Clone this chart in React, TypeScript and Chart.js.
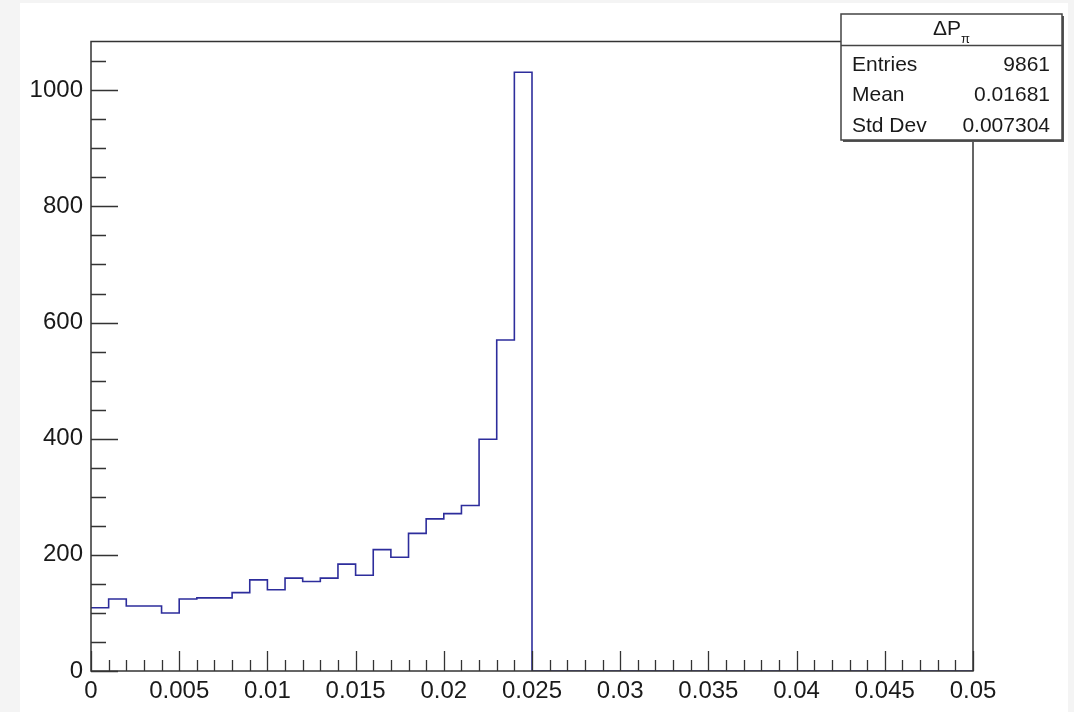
import React, { useEffect, useRef } from "react";
import { Chart, registerables } from "chart.js";

Chart.register(...registerables);

// ΔP_π histogram: 50 bins of width 0.001 covering [0, 0.05]
const binWidth = 0.001;
const binCounts = [
  109, 124, 112, 112, 100, 124, 126, 126, 135, 157,
  140, 160, 154, 160, 184, 165, 209, 196, 237, 262,
  271, 285, 399, 570, 1031, 0, 0, 0, 0, 0,
  0, 0, 0, 0, 0, 0, 0, 0, 0, 0,
  0, 0, 0, 0, 0, 0, 0, 0, 0, 0,
];

// axis ranges and tick spacing
const xRange = [0, 0.05];
const xMinorStep = 0.001;
const xMajorEvery = 5; // a labelled tick every 5 minor steps
const yRange = [0, 1084];
const yMinorStep = 50;
const yMajorEvery = 4;

// statistics box
const statsTitle = "ΔP";
const statsTitleSub = "π";
const statsLabels = ["Entries", "Mean", "Std Dev"];
const statsValues = ["9861", "0.01681", "0.007304"];

const FONT = '"Liberation Sans", Arial, Helvetica, sans-serif';
const AXIS_COLOR = "#333";
const LINE_COLOR = "#2d2d9c";

const isMajor = (value: number, step: number, every: number) =>
  Math.round(value / step) % every === 0;

const fmtX = (v: number) => String(Number(v.toFixed(3)));

const framePlugin = {
  id: "rootFrame",
  afterDatasetsDraw(chart: any) {
    const { ctx, chartArea, scales } = chart;
    const { left, right, top, bottom } = chartArea;
    ctx.save();
    ctx.strokeStyle = AXIS_COLOR;
    ctx.lineWidth = 1.5;
    ctx.strokeRect(left, top, right - left, bottom - top);

    // inward ticks on the y axis
    ctx.lineWidth = 1.3;
    ctx.beginPath();
    for (const t of scales.y.ticks) {
      const py = Math.round(scales.y.getPixelForValue(t.value)) + 0.5;
      const len = isMajor(t.value, yMinorStep, yMajorEvery) ? 27 : 15;
      ctx.moveTo(left, py);
      ctx.lineTo(left + len, py);
    }
    // inward ticks on the x axis
    for (const t of scales.x.ticks) {
      const px = Math.round(scales.x.getPixelForValue(t.value)) + 0.5;
      const len = isMajor(t.value, xMinorStep, xMajorEvery) ? 20 : 11;
      ctx.moveTo(px, bottom);
      ctx.lineTo(px, bottom - len);
    }
    ctx.stroke();
    ctx.restore();
  },
  afterDraw(chart: any) {
    const { ctx } = chart;
    const bx = 821;
    const by = 11;
    const bw = 221;
    const bh = 126;
    const titleH = 31.5;
    ctx.save();
    // shadow
    ctx.fillStyle = "#555";
    ctx.fillRect(bx + 2, by + bh, bw, 2);
    ctx.fillRect(bx + bw, by + 2, 2, bh);
    ctx.fillStyle = "#fff";
    ctx.fillRect(bx, by, bw, bh);
    ctx.strokeStyle = "#444";
    ctx.lineWidth = 1.5;
    ctx.strokeRect(bx, by, bw, bh);
    ctx.beginPath();
    ctx.moveTo(bx, by + titleH);
    ctx.lineTo(bx + bw, by + titleH);
    ctx.stroke();

    // title with subscript
    ctx.fillStyle = "#1a1a1a";
    ctx.textBaseline = "middle";
    ctx.font = `21px ${FONT}`;
    const mainW = ctx.measureText(statsTitle).width;
    ctx.font = `13px ${FONT}`;
    const subW = ctx.measureText(statsTitleSub).width;
    const startX = bx + bw / 2 - (mainW + subW) / 2;
    ctx.font = `21px ${FONT}`;
    ctx.textAlign = "left";
    ctx.fillText(statsTitle, startX, by + 15);
    ctx.font = `13px ${FONT}`;
    ctx.fillText(statsTitleSub, startX + mainW, by + 25);

    // rows
    ctx.font = `21px ${FONT}`;
    statsLabels.forEach((label, i) => {
      const cy = by + 51 + i * 30.5;
      ctx.textAlign = "left";
      ctx.fillText(label, bx + 11, cy);
      ctx.textAlign = "right";
      ctx.fillText(statsValues[i], bx + bw - 12, cy);
    });
    ctx.restore();
  },
};

export default function App() {
  const canvasRef = useRef<HTMLCanvasElement | null>(null);

  useEffect(() => {
    const canvas = canvasRef.current;
    if (!canvas) return;

    // bin contents as left-edge points of a step line; the extra last point closes the final bin
    const points = binCounts.map((c, i) => ({ x: i * binWidth, y: c }));
    points.push({ x: binCounts.length * binWidth, y: binCounts[binCounts.length - 1] });

    const chart = new Chart(canvas, {
      type: "line",
      data: {
        datasets: [
          {
            label: "ΔP_π",
            data: points,
            // horizontal at the current bin height, then vertical at the next edge
            stepped: "before",
            borderColor: LINE_COLOR,
            borderWidth: 1.6,
            pointRadius: 0,
            fill: false,
          },
        ],
      },
      options: {
        animation: false,
        responsive: true,
        maintainAspectRatio: false,
        layout: { padding: { left: 0, top: 38.5, right: 95, bottom: 0 } },
        plugins: {
          legend: { display: false },
          tooltip: { enabled: false },
          title: { display: false },
        },
        scales: {
          x: {
            type: "linear",
            min: xRange[0],
            max: xRange[1],
            grid: { display: false, drawTicks: false },
            border: { display: false },
            afterFit: (scale: any) => {
              scale.height = 41;
            },
            ticks: {
              stepSize: xMinorStep,
              autoSkip: false,
              maxRotation: 0,
              minRotation: 0,
              includeBounds: false,
              padding: 6,
              color: "#1a1a1a",
              font: { family: FONT, size: 24 },
              callback: (v: any) => {
                const n = Number(v);
                return isMajor(n, xMinorStep, xMajorEvery) ? fmtX(n) : "";
              },
            },
          },
          y: {
            type: "linear",
            min: yRange[0],
            max: yRange[1],
            grid: { display: false, drawTicks: false },
            border: { display: false },
            afterFit: (scale: any) => {
              scale.width = 71;
            },
            ticks: {
              stepSize: yMinorStep,
              autoSkip: false,
              includeBounds: false,
              padding: 8,
              color: "#1a1a1a",
              font: { family: FONT, size: 24 },
              callback: (v: any) => {
                const n = Number(v);
                return isMajor(n, yMinorStep, yMajorEvery) ? String(n) : "";
              },
            },
          },
        },
      },
      plugins: [framePlugin],
    });

    return () => chart.destroy();
  }, []);

  return (
    <div
      style={{
        position: "fixed",
        left: 0,
        top: 0,
        width: 1074,
        height: 712,
        background: "#f4f4f4",
      }}
    >
      <div
        style={{
          position: "absolute",
          left: 20,
          top: 3,
          width: 1048,
          height: 709,
          background: "#fff",
        }}
      >
        <canvas ref={canvasRef} />
      </div>
    </div>
  );
}
